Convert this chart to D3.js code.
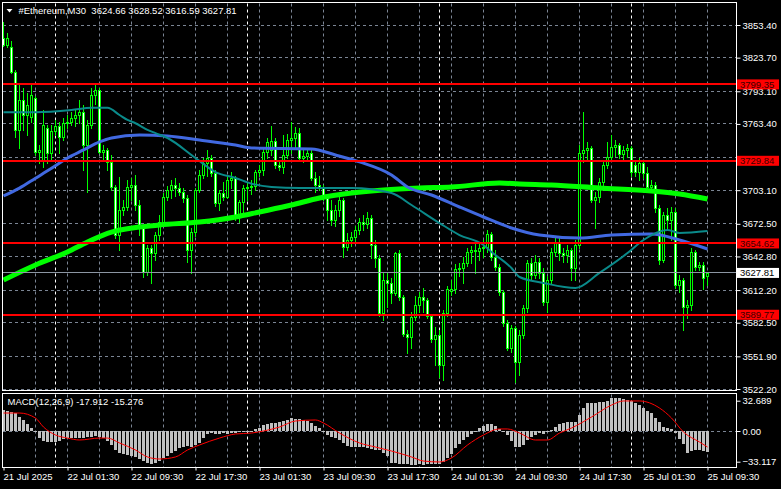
<!DOCTYPE html>
<html><head><meta charset="utf-8">
<script src="https://cdn.jsdelivr.net/npm/d3@7"></script>
<style>
html,body{margin:0;padding:0;background:#000;}
svg{display:block;}
text{font-family:"Liberation Sans",Arial,sans-serif;}
</style></head><body>
<svg id="c" width="781" height="489"></svg>
<script>
// ---------- data ----------
const symbolName = "#Ethereum,M30";
const titleOHLC = ["3624.66", "3628.52", "3616.59", "3627.81"];
const timeLabels = ["21 Jul 2025","22 Jul 01:30","22 Jul 09:30","22 Jul 17:30","23 Jul 01:30","23 Jul 09:30","23 Jul 17:30","24 Jul 01:30","24 Jul 09:30","24 Jul 17:30","25 Jul 01:30","25 Jul 09:30"];
const timeLabelBars = [0,16,32,48,64,80,96,112,128,144,160,176];
const gridBars = [8,16,24,32,40,48,56,64,72,80,88,96,104,112,120,128,136,144,152,160,168,176];
const daySeparatorBars = [13,61,109,157];
const priceTicks = [3853.40,3823.70,3793.10,3763.40,3703.10,3672.50,3642.80,3612.20,3582.50,3551.90,3522.20];
const hiddenGridPrices = [3733.00];
const levelPrices = [3799.35,3729.84,3654.62,3589.77];
const lastPrice = 3627.81;

// candles, M30 bars from 21 Jul 17:30 to 25 Jul 09:30
const candleOpen = [3841.6,3835.2,3833.4,3810.6,3757.9,3785.2,3771.5,3769.7,3787.0,3737.9,3730.6,3759.7,3736.9,3757.0,3761.5,3751.5,3764.3,3765.2,3768.8,3771.5,
3774.3,3744.2,3762.4,3789.7,3794.3,3737.9,3739.7,3728.8,3706.0,3662.4,3685.1,3687.8,3706.0,3707.8,3689.7,3668.7,3628.7,3650.5,3646.0,3662.4,
3674.2,3696.9,3703.3,3707.8,3705.1,3701.5,3696.0,3648.7,3665.1,3703.3,3716.9,3727.9,3732.4,3718.8,3691.5,3700.6,3696.9,3712.4,3714.2,3678.7,
3692.4,3705.1,3706.0,3706.9,3719.7,3721.5,3737.9,3739.7,3747.9,3726.0,3724.2,3735.1,3748.8,3750.6,3755.1,3732.4,3734.2,3736.9,3714.2,3707.8,
3706.0,3696.9,3685.1,3676.0,3685.1,3694.2,3651.4,3657.8,3660.5,3666.9,3674.2,3672.4,3677.8,3653.3,3641.4,3591.4,3621.4,3618.7,3609.6,3646.0,
3605.9,3572.3,3569.6,3587.8,3598.7,3605.9,3603.2,3588.7,3567.7,3571.4,3544.1,3591.4,3611.4,3613.2,3631.4,3632.3,3636.9,3646.9,3648.7,3647.8,
3650.5,3651.4,3663.3,3642.3,3633.2,3610.5,3582.3,3559.6,3577.8,3546.8,3571.4,3595.9,3636.9,3626.0,3637.8,3627.8,3601.4,3621.4,3646.9,3656.0,
3646.0,3644.2,3648.7,3632.3,3653.3,3736.9,3739.7,3741.5,3694.2,3696.9,3710.6,3726.0,3733.3,3742.4,3744.2,3736.0,3739.7,3741.5,3726.0,3719.7,
3727.9,3718.8,3706.0,3707.8,3686.9,3639.6,3680.6,3676.0,3683.3,3616.9,3621.4,3596.9,3598.7,3646.9,3633.2,3635.1,3624.66];
const candleHigh = [3856.1,3846.1,3838.8,3812.5,3798.8,3796.1,3791.5,3798.8,3788.8,3744.2,3776.1,3762.4,3762.4,3767.0,3765.2,3768.8,3771.5,3774.3,3776.1,3785.2,
3780.6,3767.0,3796.1,3799.7,3796.1,3744.2,3741.5,3735.1,3707.8,3715.1,3694.2,3712.4,3714.2,3716.9,3694.2,3671.5,3653.3,3653.3,3665.1,3680.6,
3700.6,3706.9,3712.4,3714.2,3709.7,3705.1,3698.7,3668.7,3705.1,3721.5,3732.4,3739.7,3735.1,3721.5,3703.3,3710.6,3716.9,3719.7,3716.0,3694.2,
3707.8,3709.7,3712.4,3721.5,3726.0,3741.5,3750.6,3761.5,3750.6,3730.6,3753.3,3754.2,3765.2,3760.6,3759.7,3739.7,3739.7,3739.7,3719.7,3716.0,
3707.8,3698.7,3694.2,3689.7,3697.8,3696.0,3664.2,3665.1,3670.6,3677.8,3680.6,3683.3,3680.6,3657.8,3644.2,3627.8,3627.8,3623.2,3646.9,3648.7,
3607.8,3575.9,3592.3,3606.9,3610.5,3614.1,3605.1,3590.5,3578.7,3575.9,3594.1,3615.9,3621.4,3636.0,3636.9,3642.3,3650.5,3652.4,3654.2,3654.2,
3657.8,3666.9,3665.1,3648.7,3636.0,3612.3,3585.0,3580.5,3579.6,3575.9,3598.7,3639.6,3641.4,3644.2,3641.4,3632.3,3625.1,3650.5,3661.5,3659.6,
3650.5,3653.3,3650.5,3657.8,3744.2,3774.3,3747.0,3743.3,3701.5,3714.2,3730.6,3747.0,3753.3,3748.8,3746.0,3743.3,3745.1,3743.3,3730.6,3732.4,
3730.6,3724.2,3712.4,3710.6,3689.7,3683.3,3686.9,3687.8,3686.9,3626.0,3623.2,3603.2,3650.5,3648.7,3637.8,3637.8,3628.52];
const candleLow = [3834.3,3833.4,3809.7,3751.5,3741.5,3757.9,3753.3,3765.2,3735.1,3727.9,3724.2,3727.9,3730.6,3753.3,3736.9,3748.8,3759.7,3762.4,3761.5,3764.3,
3721.5,3701.5,3759.7,3781.5,3736.9,3730.6,3721.5,3703.3,3659.6,3648.7,3680.6,3685.1,3694.2,3685.1,3662.4,3624.2,3626.0,3618.7,3639.6,3657.8,
3671.5,3694.2,3696.0,3697.8,3698.7,3692.4,3637.8,3627.8,3661.5,3701.5,3714.2,3716.0,3716.0,3688.7,3685.1,3694.2,3696.0,3705.1,3676.0,3674.2,
3680.6,3694.2,3699.7,3703.3,3716.0,3716.9,3732.4,3735.1,3723.3,3721.5,3718.8,3732.4,3736.9,3741.5,3730.6,3728.8,3730.6,3712.4,3701.5,3703.3,
3694.2,3676.0,3671.5,3670.6,3679.6,3642.3,3648.7,3652.4,3656.0,3663.3,3666.9,3668.7,3641.4,3633.2,3588.7,3585.0,3596.9,3600.5,3607.8,3603.2,
3570.5,3555.0,3559.6,3585.0,3592.3,3592.3,3586.9,3565.0,3544.1,3533.2,3530.5,3588.7,3607.8,3609.6,3625.1,3618.7,3634.2,3636.9,3627.8,3639.6,
3642.3,3646.9,3639.6,3630.5,3607.8,3579.6,3557.7,3555.9,3528.6,3535.0,3568.7,3592.3,3621.4,3623.2,3623.2,3598.7,3592.3,3618.7,3643.3,3639.6,
3637.8,3637.8,3621.4,3621.4,3650.5,3728.8,3730.6,3692.4,3668.7,3692.4,3707.8,3723.3,3730.6,3734.2,3732.4,3730.6,3733.3,3716.0,3716.0,3712.4,
3714.2,3703.3,3701.5,3683.3,3636.0,3637.8,3666.9,3657.8,3614.1,3610.5,3575.9,3586.9,3594.1,3630.5,3630.5,3613.2,3616.59];
const candleClose = [3835.2,3841.6,3810.6,3757.9,3785.2,3771.5,3780.6,3789.7,3737.9,3739.7,3762.4,3736.9,3757.0,3761.5,3751.5,3764.3,3765.2,3768.8,3771.5,3774.3,
3744.2,3762.4,3789.7,3794.3,3737.9,3739.7,3728.8,3706.0,3662.4,3685.1,3687.8,3706.0,3707.8,3689.7,3668.7,3628.7,3650.5,3646.0,3662.4,3674.2,
3696.9,3703.3,3707.8,3705.1,3701.5,3696.0,3648.7,3665.1,3703.3,3716.9,3727.9,3732.4,3718.8,3691.5,3700.6,3696.9,3712.4,3714.2,3678.7,3692.4,
3705.1,3706.0,3706.9,3719.7,3721.5,3737.9,3747.0,3747.9,3726.0,3724.2,3735.1,3748.8,3750.6,3755.1,3732.4,3734.2,3736.9,3714.2,3707.8,3706.0,
3696.9,3685.1,3676.0,3685.1,3694.2,3651.4,3657.8,3660.5,3666.9,3674.2,3672.4,3677.8,3653.3,3641.4,3591.4,3621.4,3618.7,3609.6,3646.0,3605.9,
3572.3,3569.6,3587.8,3598.7,3605.9,3603.2,3588.7,3567.7,3571.4,3544.1,3591.4,3613.2,3613.2,3631.4,3632.3,3636.9,3646.9,3648.7,3647.8,3650.5,
3651.4,3663.3,3642.3,3633.2,3610.5,3582.3,3559.6,3577.8,3546.8,3571.4,3595.9,3636.9,3626.0,3637.8,3627.8,3601.4,3621.4,3646.9,3656.0,3646.0,
3644.2,3648.7,3632.3,3653.3,3736.9,3739.7,3741.5,3694.2,3696.9,3710.6,3726.0,3733.3,3742.4,3744.2,3736.0,3739.7,3741.5,3719.7,3719.7,3727.9,
3718.8,3706.0,3707.8,3686.9,3639.6,3680.6,3676.0,3683.3,3616.9,3621.4,3596.9,3598.7,3646.9,3633.2,3635.1,3623.2,3627.81];

// moving averages (bar index, price)
const maTealBars = [0,8,17,22,26,29,31,33,36,38,41,48,53,58,62,67,74,87,97,102,109,114,120,122,127,129,135,143,149,156,160,166,169,176];
const maTealVals = [3774,3774,3776,3778,3778,3771.5,3767,3764,3758,3755,3750.6,3732.4,3719.6,3714.2,3709,3706,3705,3705,3700.5,3689.6,3673.2,3662.3,3653.2,3646.9,3632.3,3624.1,3618.7,3614.1,3627.8,3645.9,3657.8,3666.9,3664.2,3666];
const maBlueBars = [0,4,8,12,16,20,24,27,34,41,49,58,62,77,83,89,97,101,107,114,120,127,134,144,152,162,169,176];
const maBlueVals = [3697.8,3705,3714,3723,3732.4,3739.7,3747,3750.6,3753.3,3752.4,3748.8,3744.2,3741.5,3740.6,3735.1,3728.8,3716.9,3706,3698.7,3687.8,3678.7,3668.7,3662.3,3659.6,3662.3,3663.2,3657.8,3649.6];
const maGreenBars = [0,8,16,21,27,39,49,58,64,72,79,87,95,104,112,124,129,137,149,162,169,176];
const maGreenVals = [3621.4,3635.1,3646.9,3656,3665,3671.4,3674.1,3678.7,3683.3,3689.6,3696,3700.5,3703.3,3705.1,3706,3709.6,3708.7,3707.8,3705.1,3702.4,3699.6,3695.1];

// MACD
const macdTitle = "MACD(12,26,9) -17.912 -15.276";
const macdTicks = [32.689, 0.00, -33.117];
const macdHist = [22.7,21.6,20.9,19.1,15.5,11.9,7.2,3.6,-1,-7.9,-10.8,-11.5,-12.2,-11.5,-10.8,-8.6,-7.9,-7.9,-7.2,-7.9,-7.2,-6.1,-6.1,-5,-6.1,-7.9,-10.8,-15.1,-20.5,-23.4,-25.2,-25.9,-26.6,-27.7,-30.2,-32.4,-34.9,-36,-34.9,-32.4,-29.5,-26.6,-24.1,-21.6,-18.7,-16.9,-15.8,-16.9,-15.1,-13.3,-7.9,-3.6,-2.5,-2.9,-2.9,-2.5,-2.9,-2.2,-1.8,-1.1,-1.1,-1.4,-0.4,1.8,3.6,6.5,7.6,8.6,9,9.7,10.8,12.2,13.7,13.3,12.9,11.9,10.8,8.3,5.8,2.9,-0.7,-4.3,-6.1,-7.9,-9.7,-13.3,-15.8,-16.9,-17.3,-16.9,-17.3,-18,-19.4,-20.5,-20.5,-24.1,-26.6,-34.9,-34.9,-36,-35.2,-36,-36.7,-36.7,-36,-36.7,-36,-35.2,-36,-36,-33.1,-28.8,-25.2,-18.7,-14.4,-9.7,-6.1,-3.6,-0.7,2.9,5.8,7.2,7.6,5.8,2.2,-1.4,-4.3,-10.8,-16.9,-17.3,-15.1,-9.7,-6.1,-4.3,-2.5,-2.9,-1.4,1.1,4.7,7.2,8.3,9.4,10.1,10.1,17.3,25.2,29.8,29.8,29.8,30.9,31.6,32.4,35.2,35.2,35.2,34.5,33.4,32.4,29.8,28,25.2,21.6,19.1,14.4,9.4,4.7,3.6,2.2,-2.5,-8.6,-14.4,-23.4,-21.6,-20.9,-20.9,-21.6,-23];
const signalBars = [0,4,8,10,13,16,19,24,26,29,33,36,39,43,46,49,54,58,62,65,69,73,78,80,84,89,93,97,102,105,109,112,116,120,124,126,129,133,136,139,142,147,152,155,159,164,167,170,174,176];
const signalVals = [19.4,19.4,14,4.3,-4.3,-7.6,-9.7,-7.6,-7.6,-12.9,-20.5,-28,-30.2,-28,-20.5,-15.1,-7.6,-3.2,-2.2,0,4.3,10.8,11.9,8.6,-2.2,-12.9,-17.3,-21.6,-28,-32.4,-33.4,-29.1,-15.1,-4.3,2.2,2.2,-2.2,-9.7,-9.7,-2.2,3.2,15.1,28,32.4,32.4,24.8,14,-1.1,-11.9,-17.3];

// ---------- drawing ----------
const W = 781, H = 489;
const L = 2.5, R = 736.5, mainTop = 2.5, mainBot = 390.5, subTop = 393.5, subBot = 467.5;
const svg = d3.select("#c");
svg.append("rect").attr("width",W).attr("height",H).attr("fill","#000");

const x = d3.scaleLinear().domain([0,176]).range([3.5,707.5]);
const y = d3.scaleLinear().domain([3522.2,3853.4]).range([389,25]);
const ym = d3.scaleLinear().domain([-33.117,32.689]).range([461.7,400.7]);
const snap = v => Math.round(v - 0.5) + 0.5;
const fontFam = "Liberation Sans, Arial, sans-serif";

const gridCol = "#7b8594";
const defs = svg.append("defs");
defs.append("clipPath").attr("id","mainClip").append("rect").attr("x",3).attr("y",3).attr("width",733).attr("height",387);
defs.append("clipPath").attr("id","subClip").append("rect").attr("x",3).attr("y",394).attr("width",733).attr("height",73);

// grids
const grid = svg.append("g");
[...priceTicks, ...hiddenGridPrices].forEach(p => {
  grid.append("line").attr("x1",3).attr("x2",736).attr("y1",snap(y(p))).attr("y2",snap(y(p)))
    .attr("stroke",gridCol).attr("stroke-dasharray","3,3");
});
gridBars.forEach(b => {
  const xx = snap(x(b));
  [[mainTop+1,mainBot],[subTop+1,subBot]].forEach(([a,c]) =>
    grid.append("line").attr("x1",xx).attr("x2",xx).attr("y1",a).attr("y2",c)
      .attr("stroke",gridCol).attr("stroke-dasharray","3,3"));
});
daySeparatorBars.forEach(b => {
  const xx = snap(x(b));
  [[mainTop+1,mainBot],[subTop+1,subBot]].forEach(([a,c]) =>
    grid.append("line").attr("x1",xx).attr("x2",xx).attr("y1",a).attr("y2",c)
      .attr("stroke","#ffffff").attr("stroke-dasharray","3,3"));
});
grid.append("line").attr("x1",3).attr("x2",736).attr("y1",snap(ym(0))).attr("y2",snap(ym(0)))
  .attr("stroke",gridCol).attr("stroke-dasharray","3,3");

// candles
const cg = svg.append("g").attr("clip-path","url(#mainClip)").attr("shape-rendering","crispEdges");
const candles = candleOpen.map((o,i)=>({i,o,h:candleHigh[i],l:candleLow[i],c:candleClose[i]}));
candles.forEach(d => {
  const cx = x(d.i);
  cg.append("line").attr("x1",cx).attr("x2",cx).attr("y1",Math.round(y(d.h))).attr("y2",Math.round(y(d.l))+1)
    .attr("stroke","#00ff00").attr("stroke-width",1);
  const top = Math.round(y(Math.max(d.o,d.c))), bot = Math.round(y(Math.min(d.o,d.c)));
  const bull = d.c >= d.o;
  if (bot - top < 1) {
    cg.append("line").attr("x1",cx-1.5).attr("x2",cx+1.5).attr("y1",top+0.5).attr("y2",top+0.5).attr("stroke","#00ff00");
  } else {
    cg.append("rect").attr("x",cx-1).attr("y",top+0.5).attr("width",2).attr("height",bot-top)
      .attr("fill", bull ? "#000" : "#fff").attr("stroke","#00ff00").attr("stroke-width",1);
  }
});

// moving averages
const mg = svg.append("g").attr("clip-path","url(#mainClip)");
function drawMA(bars, vals, color, width) {
  const pts = bars.map((b,k)=>[x(b), y(vals[k])]);
  mg.append("path").attr("d", d3.line().curve(d3.curveMonotoneX)(pts))
    .attr("fill","none").attr("stroke",color).attr("stroke-width",width).attr("stroke-linejoin","round");
}
drawMA(maGreenBars, maGreenVals, "#00ff00", 5);
drawMA(maBlueBars, maBlueVals, "#4169e1", 3);
drawMA(maTealBars, maTealVals, "#0a8a8a", 2);

// last price line
svg.append("line").attr("x1",3).attr("x2",736).attr("y1",snap(y(lastPrice))).attr("y2",snap(y(lastPrice)))
  .attr("stroke","#8c96a3").attr("stroke-width",1);
// level lines
levelPrices.forEach(p => {
  svg.append("line").attr("x1",3).attr("x2",736).attr("y1",Math.round(y(p))).attr("y2",Math.round(y(p)))
    .attr("stroke","#ff0000").attr("stroke-width",2);
});

// MACD histogram and signal
const sg = svg.append("g").attr("clip-path","url(#subClip)");
const hg = sg.append("g").attr("shape-rendering","crispEdges");
macdHist.forEach((v,i) => {
  const cx = x(i);
  const y0 = ym(0), y1 = ym(v);
  hg.append("rect").attr("x",cx-1.5).attr("y",Math.round(Math.min(y0,y1))).attr("width",3)
    .attr("height",Math.max(1,Math.round(Math.abs(y1-y0)))).attr("fill","#c0c0c0");
});
sg.append("path").attr("d", d3.line().curve(d3.curveMonotoneX)(signalBars.map((b,k)=>[x(b), ym(signalVals[k])])))
  .attr("fill","none").attr("stroke","#ff0000").attr("stroke-width",1);

// frames
svg.append("rect").attr("x",L).attr("y",mainTop).attr("width",R-L).attr("height",mainBot-mainTop)
  .attr("fill","none").attr("stroke","#fff");
svg.append("rect").attr("x",L).attr("y",subTop).attr("width",R-L).attr("height",subBot-subTop)
  .attr("fill","none").attr("stroke","#fff");

// price axis
const fs = 9.5;
const pAxis = d3.axisRight(y).tickValues(priceTicks).tickFormat(d3.format(".2f")).tickSize(4).tickPadding(2);
const pa = svg.append("g").attr("transform","translate(736.5,0)").call(pAxis);
pa.select(".domain").remove();
pa.selectAll("line").attr("stroke","#fff");
pa.selectAll("text").attr("fill","#fff").attr("font-size",fs).attr("font-family",fontFam);

// MACD axis
const mAxis = d3.axisRight(ym).tickValues(macdTicks).tickFormat(d => d===0 ? "0.00" : d3.format(".3f")(d)).tickSize(4).tickPadding(2);
const ma = svg.append("g").attr("transform","translate(736.5,0)").call(mAxis);
ma.select(".domain").remove();
ma.selectAll("line").attr("stroke","#fff");
ma.selectAll("text").attr("fill","#fff").attr("font-size",fs).attr("font-family",fontFam);

// level labels
levelPrices.forEach(p => {
  const yy = y(p);
  svg.append("rect").attr("x",737).attr("y",yy-5).attr("width",42).attr("height",10).attr("fill","#ff0000");
  svg.append("text").attr("x",740).attr("y",yy+3.5).attr("font-size",fs).attr("fill","#3a0000").text(p.toFixed(2));
});
{
  const yy = y(lastPrice);
  svg.append("rect").attr("x",737).attr("y",yy-5).attr("width",42).attr("height",10).attr("fill","#ffffff");
  svg.append("text").attr("x",740).attr("y",yy+3.5).attr("font-size",fs).attr("fill","#000").text(lastPrice.toFixed(2));
}

// time axis
const tAxis = d3.axisBottom(x).tickValues(timeLabelBars).tickFormat((d,k)=>timeLabels[k]).tickSize(3).tickPadding(3);
const ta = svg.append("g").attr("transform","translate(0,467.5)").call(tAxis);
ta.select(".domain").remove();
ta.selectAll("line").attr("stroke","#fff");
ta.selectAll("text").attr("fill","#fff").attr("font-size",fs).attr("text-anchor","start").attr("dx","-0.5")
  .attr("font-family",fontFam);

// titles
svg.append("path").attr("d","M6.5,9 L12.5,9 L9.5,12.5 Z").attr("fill","#fff");
svg.append("text").attr("x",18.5).attr("y",14).attr("font-size",fs).attr("fill","#fff")
  .attr("xml:space","preserve").text(symbolName + "  " + titleOHLC.join(" "));
svg.append("text").attr("x",7.5).attr("y",405).attr("font-size",fs).attr("fill","#fff").text(macdTitle);
</script>
</body></html>
